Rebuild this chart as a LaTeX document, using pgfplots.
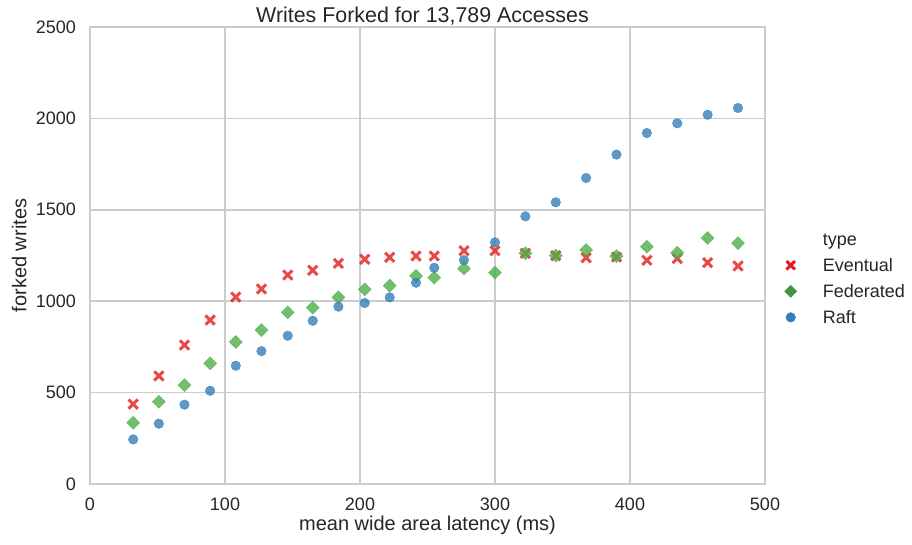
\documentclass[border=0pt]{standalone}
\usepackage{fontspec}
\setmainfont{Liberation Sans}
\usepackage{pgfplots}
\pgfplotsset{compat=1.18}

\definecolor{evred}{rgb}{0.894,0.102,0.110}
\definecolor{fedgreen}{rgb}{0.302,0.686,0.290}
\definecolor{raftblue}{rgb}{0.216,0.494,0.722}
\definecolor{gridgray}{HTML}{CCCCCC}
\definecolor{txt}{HTML}{262626}

\pgfplotstableread{
x     eventual federated raft
32    437      335       244
51    591      450       330
70    760      541       434
89    897      660       510
108   1023     777       647
127   1067     842       727
146.5 1143     939       811
165   1169     965       893
184   1207     1021      970
203.5 1229     1065      990
222   1240     1085      1021
241.5 1247     1138      1101
255   1247     1129      1183
277   1276     1178      1225
300   1276     1156      1322
322.5 1262     1262      1464
345   1249     1249      1541
367.5 1238     1280      1674
390   1242     1246      1802
412.5 1224     1298      1920
435   1233     1265      1973
457.5 1211     1346      2020
480   1193     1318      2057
}\forked

\begin{document}
\begin{tikzpicture}
\useasboundingbox (-90pt,-60pt) rectangle (822pt,484pt);
\begin{axis}[
  at={(0,0)}, anchor=south west,
  scale only axis, width=675pt, height=457pt,
  xmin=0, xmax=500, ymin=0, ymax=2500,
  xtick={0,100,...,500}, ytick={0,500,...,2500},
  major tick length=0pt,
  grid=major,
  major grid style={draw=gridgray, line width=1.6pt},
  axis line style={draw=gridgray, line width=1.4pt},
  /pgf/number format/assume math mode=true,
  /pgf/number format/1000 sep={},
  tick label style={font=\fontsize{18}{21}\selectfont, text=txt},
  xticklabel style={anchor=base, yshift=-26.5pt, inner sep=0pt},
  yticklabel style={anchor=east, xshift=-14pt, inner sep=0pt},
  xlabel={mean wide area latency (ms)},
  ylabel={forked writes},
  label style={font=\fontsize{20}{24}\selectfont, text=txt},
  xlabel style={at={(axis description cs:0.5,0)}, anchor=base, yshift=-46pt, inner sep=0pt},
  ylabel style={at={(axis description cs:0,0.5)}, anchor=base, yshift=63.5pt, inner sep=0pt},
  title={Writes Forked for 13,789 Accesses},
  title style={at={(axis description cs:0.5,1)}, anchor=base, yshift=-1pt, xshift=-5pt, inner sep=0pt,
    font=\fontsize{21.4}{25}\selectfont, text=txt},
  legend style={draw=none, fill=none, font=\fontsize{18}{21}\selectfont, text=txt,
    at={(axis description cs:1.0207,0.4486)}, anchor=west, row sep=7.5pt,
    /tikz/every odd column/.append style={column sep=24pt}},
  legend cell align=left,
]
\addlegendimage{empty legend}
\addlegendentry{type}
\addlegendimage{only marks, mark=x, mark size=6pt, color=evred, mark options={line width=3pt}}
\addlegendentry{Eventual}
\addlegendimage{only marks, mark=square*, mark size=4.3pt, color=fedgreen!85!black, mark options={rotate=45}}
\addlegendentry{Federated}
\addlegendimage{only marks, mark=*, mark size=4.8pt, color=raftblue}
\addlegendentry{Raft}

\addplot[forget plot, only marks, mark=x, mark size=6.5pt,
  color=evred, mark options={line width=3pt, opacity=0.8}] table[x=x, y=eventual] {\forked};
\addplot[forget plot, only marks, mark=square*, mark size=4.6pt,
  color=fedgreen, mark options={rotate=45, opacity=0.8, draw=none}] table[x=x, y=federated] {\forked};
\addplot[forget plot, only marks, mark=*, mark size=4.8pt,
  color=raftblue, mark options={opacity=0.8, draw=none}] table[x=x, y=raft] {\forked};
\end{axis}
\end{tikzpicture}
\end{document}
